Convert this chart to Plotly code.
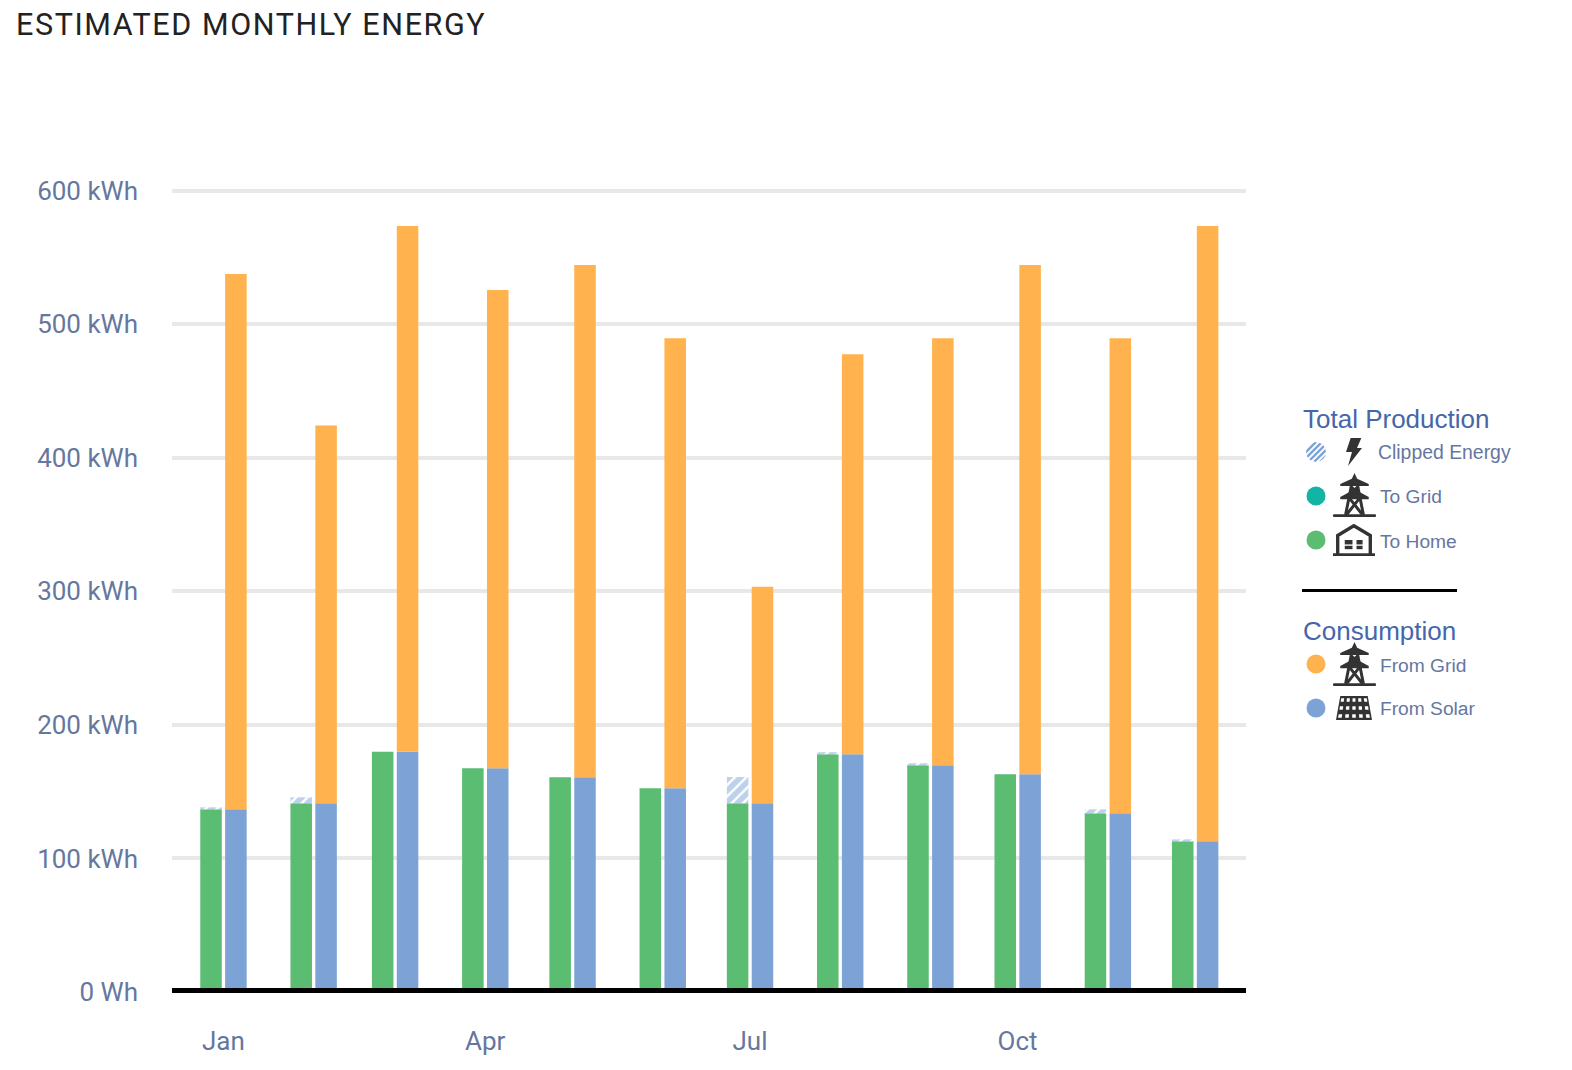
import base64
import plotly.graph_objects as go

months = ["2023-01-01","2023-02-01","2023-03-01","2023-04-01","2023-05-01","2023-06-01",
          "2023-07-01","2023-08-01","2023-09-01","2023-10-01","2023-11-01","2023-12-01"]
to_home = [136.8,141.3,179.9,167.6,160.8,152.6,141.3,178.0,169.8,163.0,133.8,112.8]
clipped = [1.5,4.5,0,0,0,0,19.7,1.6,1.5,0,3.0,1.5]
from_solar = [136.8,141.3,179.9,167.6,160.8,152.6,141.3,178.0,169.8,163.0,133.8,112.8]
from_grid = [400.9,283.0,393.8,358.1,383.6,337.0,162.1,299.6,319.8,381.4,355.8,460.9]
y_ticks = [0,100,200,300,400,500,600]
y_labels = ["0 Wh","100 kWh","200 kWh","300 kWh","400 kWh","500 kWh","600 kWh"]
x_ticks = ["2023-01-01","2023-04-01","2023-07-01","2023-10-01"]
x_labels = ["Jan","Apr","Jul","Oct"]

W, H = 1572, 1070
L, R, T, B = 172, 1246, 124, 992
GREEN, BLUE, ORANGE, TEAL = "#5abd72", "#7da3d6", "#ffb24d", "#12b5a5"
TICK = "#66779e"
HEAD = "#4666ab"
DAY = 86400000

def px(x): return (x - L) / (R - L)
def py(y): return (B - y) / (B - T)

bar_w = 7.4 * DAY
fig = go.Figure()
fig.add_bar(x=months, y=to_home, marker=dict(color=GREEN, line_width=0),
            width=bar_w, offset=-7.95 * DAY, name="To Home")
fig.add_bar(x=months, y=clipped, base=to_home,
            marker=dict(color="white", line_width=0,
                        pattern=dict(shape="/", fgcolor=BLUE, bgcolor="white", size=8, solidity=0.7)),
            width=bar_w, offset=-7.95 * DAY, name="Clipped Energy")
fig.add_bar(x=months, y=from_solar, marker=dict(color=BLUE, line_width=0),
            width=bar_w, offset=0.6 * DAY, name="From Solar")
fig.add_bar(x=months, y=from_grid, base=from_solar, marker=dict(color=ORANGE, line_width=0),
            width=bar_w, offset=0.6 * DAY, name="From Grid")

def svg_uri(body, w, h):
    s = f'<svg xmlns="http://www.w3.org/2000/svg" viewBox="0 0 {w} {h}" width="{w}" height="{h}">{body}</svg>'
    return "data:image/svg+xml;base64," + base64.b64encode(s.encode()).decode()

DARK = "#333333"
tower = (f'<g fill="{DARK}"><rect x="0" y="120" width="130" height="8" rx="3"/>'
         '<path d="M65 0L73 17L108 32V38H22V32L57 17Z"/>'
         '<path d="M22 70L50 55H80L108 70V76H22Z"/></g>'
         f'<g stroke="{DARK}" stroke-width="9" fill="none">'
         '<path d="M57 30L38 122M73 30L92 122M52 76L88 120M78 76L42 120M52 38L78 60M78 38L52 60"/></g>')
house = (f'<g fill="none" stroke="{DARK}" stroke-width="10"><path d="M14 90V34L62 5L111 34V90"/></g>'
         f'<g fill="{DARK}"><rect x="0" y="86" width="125" height="8"/>'
         '<rect x="35" y="47" width="23" height="13"/><rect x="70" y="47" width="18" height="13"/>'
         '<rect x="35" y="64" width="23" height="10"/><rect x="70" y="64" width="18" height="10"/></g>')
bolt = f'<path fill="{DARK}" d="M14 0H46L33 30H48L6 84L18 42H0Z"/>'

def panel_svg():
    w, h, cols, rows = 109, 72, 5, 3
    top_l, top_r = 13, 96
    def pt(u, v):
        l = top_l * (1 - v)
        r = top_r + (w - top_r) * v
        return l + (r - l) * u, v * h
    out = [f'<path fill="{DARK}" d="M{top_l} 0H{top_r}L{w} {h}H0Z"/>']
    for c in range(cols):
        for r in range(rows):
            u0, u1 = (c + .24) / cols, (c + .76) / cols
            v0, v1 = (r + .27) / rows, (r + .73) / rows
            pts = [pt(u0, v0), pt(u1, v0), pt(u1, v1), pt(u0, v1)]
            d = "M" + "L".join(f"{a:.1f} {b:.1f}" for a, b in pts) + "Z"
            out.append(f'<path fill="white" d="{d}"/>')
    return "".join(out)

hatch = (f'<defs><clipPath id="c"><circle cx="10" cy="10" r="10"/></clipPath></defs>'
         f'<g clip-path="url(#c)" stroke="{BLUE}" stroke-width="2.4">'
         + "".join(f'<path d="M{i} 20L{i+20} 0"/>' for i in range(-16, 20, 6)) + '</g>')

def icon(body, vw, vh, x0, y0, x1, y1):
    return dict(source=svg_uri(body, vw, vh), xref="paper", yref="paper", x=px(x0), y=py(y0),
                sizex=(x1 - x0) / (R - L), sizey=(y1 - y0) / (B - T),
                xanchor="left", yanchor="top", sizing="stretch", layer="above")

images = [
    icon(hatch, 20, 20, 1306, 442, 1326, 462),
    icon(bolt, 48, 84, 1346, 438, 1362, 466),
    icon(tower, 130, 128, 1333, 473, 1376, 517),
    icon(house, 125, 94, 1333, 524, 1375, 556),
    icon(tower, 130, 128, 1333, 642, 1376, 686),
    icon(panel_svg(), 109, 72, 1336, 696, 1372, 720),
]

def text(x, y, s, size, color, family):
    return dict(xref="paper", yref="paper", x=px(x), y=py(y), text=s, showarrow=False,
                xanchor="left", yanchor="middle", align="left",
                font=dict(size=size, color=color, family=family), borderpad=0)

ARIAL = "Liberation Sans, Arial, sans-serif"
annotations = [
    text(16, 25, "ESTIMATED MONTHLY ENERGY", 30.5, "#222222", "Roboto, sans-serif"),
    text(1302, 418.5, "Total Production", 26, HEAD, ARIAL),
    text(1377, 452, "Clipped Energy", 19.4, TICK, ARIAL),
    text(1379, 496, "To Grid", 19.2, TICK, ARIAL),
    text(1379, 541, "To Home", 19.2, TICK, ARIAL),
    text(1302, 630.5, "Consumption", 26, HEAD, ARIAL),
    text(1379, 665, "From Grid", 19.2, TICK, ARIAL),
    text(1379, 708, "From Solar", 19.2, TICK, ARIAL),
]

def dot(cx, cy, color, r=9.5):
    return dict(type="circle", xref="paper", yref="paper", x0=px(cx - r), x1=px(cx + r),
                y0=py(cy + r), y1=py(cy - r), fillcolor=color, line_width=0, layer="above")

shapes = [
    dict(type="rect", xref="paper", yref="paper", x0=0, x1=1, y0=py(993), y1=py(988),
         fillcolor="black", line_width=0, layer="above"),
    dict(type="rect", xref="paper", yref="paper", x0=px(1302), x1=px(1457), y0=py(592), y1=py(589),
         fillcolor="black", line_width=0, layer="above"),
    dot(1316, 496, TEAL), dot(1316, 540, GREEN), dot(1316, 664, ORANGE), dot(1316, 708, BLUE),
]

fig.update_layout(
    width=W, height=H, autosize=False, barmode="overlay", showlegend=False,
    paper_bgcolor="white", plot_bgcolor="white",
    margin=dict(l=L, r=W - R, t=T, b=H - B, pad=0),
    xaxis=dict(type="date", range=["2022-12-14 08:00", "2023-12-18 12:00"],
               tickmode="array", tickvals=x_ticks, ticktext=x_labels,
               showgrid=False, zeroline=False, showline=False, ticks="",
               ticklabelstandoff=31,
               tickfont=dict(family="Roboto, sans-serif", size=26, color=TICK)),
    yaxis=dict(range=[0, 650], tickmode="array", tickvals=y_ticks, ticktext=y_labels,
               showgrid=True, gridcolor="#e8e8e8", gridwidth=3.5, zeroline=False, showline=False,
               ticks="", ticklabelstandoff=33,
               tickfont=dict(family="Roboto, sans-serif", size=26, color=TICK)),
    images=images, annotations=annotations, shapes=shapes,
)

post = """
document.body.style.margin='0';
var t = Array.from(document.querySelectorAll('.annotation-text')).find(function(e){return e.textContent.indexOf('ESTIMATED')===0;});
if (t) { t.style.letterSpacing='1.6px'; t.style.textAnchor='start'; t.setAttribute('x', 0); }
"""
fig.write_html("out.html", post_script=post, config={"displayModeBar": False})
